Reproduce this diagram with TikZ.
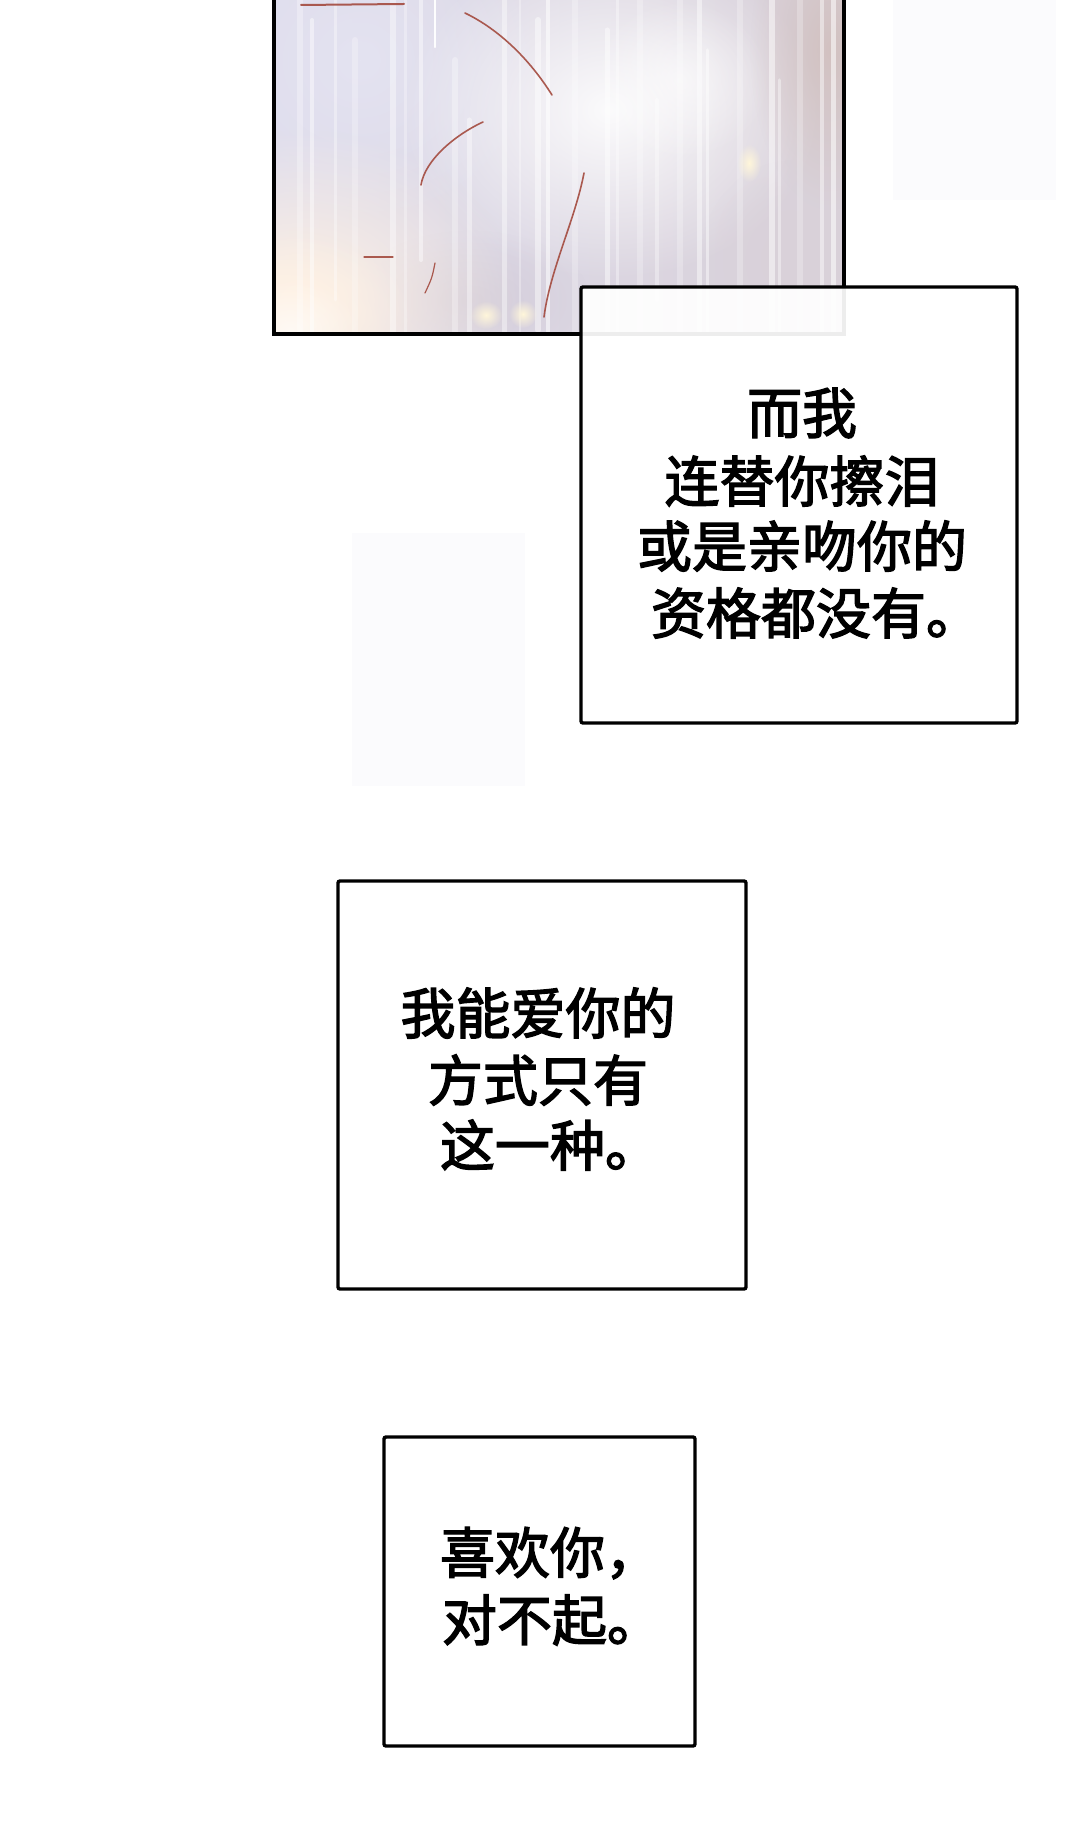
\documentclass[tikz,border=0pt]{standalone}
\usepackage{fontspec}
\newfontfamily\cjk{Noto Sans CJK SC}[FakeBold=2.5]
\usetikzlibrary{fadings}
\tikzfading[name=softglow, inner color=transparent!0, outer color=transparent!100]
\definecolor{lavL}{HTML}{DEDCEC}
\definecolor{lavR}{HTML}{D9D1D9}
\definecolor{lavT}{HTML}{E4E3F1}
\definecolor{peach}{HTML}{FFF2E4}
\definecolor{mauve}{HTML}{CDC5D2}
\definecolor{warmR}{HTML}{D0BDBA}
\definecolor{strandred}{HTML}{A34A3E}
\definecolor{bokeh}{HTML}{FFF6DA}
\definecolor{faint}{HTML}{FBFBFD}
\begin{document}
\begin{tikzpicture}[x=0.5pt,y=-0.5pt,
  boxline/.style={line width=1.7pt, draw=black, rounded corners=1pt},
  txt/.style={font=\cjk\fontsize{27.5pt}{33pt}\selectfont, inner sep=0pt, text=black},
  strand/.style={draw=strandred, line width=0.8pt, line cap=round, opacity=0.9},
  rain/.style={draw=white, line cap=round},
  glow/.style={path fading=softglow}]
\useasboundingbox (0,0) rectangle (1080,1834);
\fill[white] (0,0) rectangle (1080,1834);
% faint background patches
\fill[faint] (352,533) rectangle (525,786);
\fill[faint] (893,0) rectangle (1056,200);
% painted panel
\begin{scope}
  \clip (274,-10) rectangle (844,334);
  \shade[left color=lavL, right color=lavR] (274,-10) rectangle (844,334);
  \fill[lavT, glow] (360,60) ellipse (180 and 170);
  \fill[white, glow, opacity=0.9] (610,110) ellipse (210 and 170);
  \fill[white, glow, opacity=0.6] (680,80) ellipse (90 and 80);
  \fill[mauve, glow, opacity=0.6] (470,300) ellipse (120 and 70);
  \fill[warmR, glow, opacity=0.8] (830,50) ellipse (80 and 160);
  \fill[lavR, glow] (790,260) ellipse (90 and 100);
  \fill[peach, glow] (300,300) ellipse (220 and 170);
  \fill[peach, glow] (285,320) ellipse (130 and 90);
  \fill[white, glow, opacity=0.6] (290,330) ellipse (70 and 50);
  % rain
  \foreach \x/\a/\b/\w/\o in {300/0/334/3/.3, 312/20/334/2/.45, 335/0/300/1.5/.35, 355/40/334/3/.25,
     393/0/334/3/.4, 405/0/334/1.5/.3, 421/0/260/2/.45, 455/60/334/3/.3, 469/120/334/2.5/.4,
     504/0/334/2.5/.4, 520/0/334/1.2/.3, 538/20/330/3/.45, 548/0/334/2/.55, 575/0/334/3/.25,
     607/30/334/2.5/.45, 617/0/334/1.5/.35, 640/0/334/3/.25, 657/100/300/2/.35, 680/0/334/3/.25,
     699/0/334/2.5/.45, 707/50/334/1.5/.45, 740/0/334/3/.25, 772/0/334/3/.5, 779/80/334/1.5/.4,
     800/0/334/3/.25, 822/0/334/2/.45, 833/0/334/2.5/.55}
    {\draw[rain, line width=\w pt, opacity=\o] (\x,\a) -- (\x,\b);}
  \draw[rain, line width=1.2pt, opacity=0.95] (435,0) -- (435,47);
  % strands
  \draw[strand] (465,13) .. controls (500,30) and (530,60) .. (552,95);
  \draw[strand] (483,122) .. controls (455,135) and (425,160) .. (421,185);
  \draw[strand] (584,173) .. controls (575,220) and (550,270) .. (544,317);
  \draw[strand, line width=0.6pt] (364,257) -- (393,257);
  \draw[strand, line width=0.6pt] (435,263) .. controls (432,278) .. (425,293);
  \draw[strand, line width=1pt] (301,5) -- (404,4);
  % bokeh
  \fill[bokeh, glow] (749,163) ellipse (12 and 19);
  \fill[bokeh, glow] (486,315) ellipse (16 and 14);
  \fill[bokeh, glow] (523,314) ellipse (14 and 14);
\end{scope}
\draw[line width=1.7pt] (274,-10) -- (274,334) -- (844,334) -- (844,-10);
% box 1
\filldraw[boxline, fill=white, fill opacity=0.93] (581,287) rectangle (1017,723);
\node[txt] (b1a) at (802,413) {而我};
\node[txt] (b1b) at (802,481) {连替你擦泪};
\node[txt] (b1c) at (802,546) {或是亲吻你的};
\node[txt] (b1d) at (816,613) {资格都没有。};
% box 2
\draw[boxline] (338,881) rectangle (746,1289);
\node[txt] (b2a) at (538,1013) {我能爱你的};
\node[txt] (b2b) at (538,1080) {方式只有};
\node[txt] (b2c) at (550,1145) {这一种。};
% box 3
\draw[boxline] (384,1437) rectangle (695,1746);
\node[txt] (b3a) at (550,1553) {喜欢你，};
\node[txt] (b3b) at (552,1620) {对不起。};
\end{tikzpicture}
\end{document}
